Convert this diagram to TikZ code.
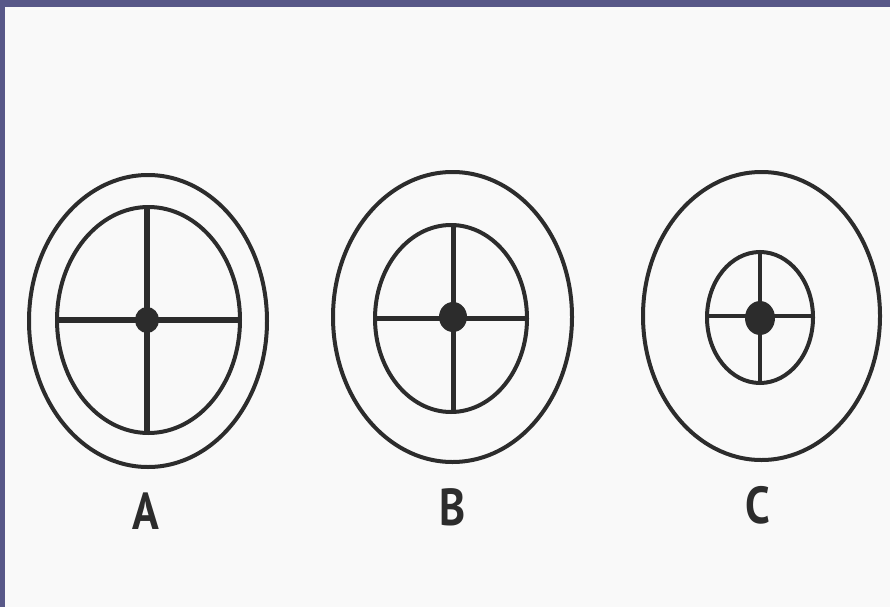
\documentclass[tikz,border=0pt]{standalone}
\usepackage{fontspec}
\setsansfont{PT Sans}
\definecolor{bgc}{HTML}{F9F9F9}
\definecolor{framec}{HTML}{585888}
\definecolor{ink}{HTML}{2C2C2C}
\begin{document}
\begin{tikzpicture}[x=1pt,y=-1pt,
  rim/.style={draw=ink,line width=4pt},
  spoke/.style={draw=ink,line width=#1},
  hub/.style={fill=ink},
  lbl/.style={text=ink,font=\sffamily\bfseries\fontsize{52}{52}\selectfont,inner sep=0pt,xscale=0.85}]
\useasboundingbox (0,0) rectangle (890,607);
\fill[framec] (0,0) rectangle (890,607);
\fill[bgc] (5,7) rectangle (890,607);
% A
\draw[rim] (148,321) ellipse [x radius=119,y radius=146];
\draw[rim] (148.5,320) ellipse [x radius=91.5,y radius=113];
\draw[spoke=6pt] (57,320) -- (240,320);
\draw[spoke=6pt] (147,207) -- (147,433);
\fill[hub] (147,320) ellipse [x radius=12,y radius=13];
% B
\draw[rim] (452.5,317) ellipse [x radius=119.5,y radius=145];
\draw[rim] (451,318.5) ellipse [x radius=76,y radius=93.5];
\draw[spoke=5pt] (375,318) -- (527,318);
\draw[spoke=5pt] (453,225) -- (453,412);
\fill[hub] (453,317) ellipse [x radius=14,y radius=15];
% C
\draw[rim] (761.5,316) ellipse [x radius=118.5,y radius=144];
\draw[rim] (760,317.5) ellipse [x radius=53,y radius=65.5];
\draw[spoke=4pt] (707,316) -- (813,316);
\draw[spoke=4pt] (760,252) -- (760,383);
\fill[hub] (760,318) ellipse [x radius=15,y radius=17];
% labels
\node[lbl] (la) at (146,511) {A};
\node[lbl] (lb) at (453,507) {B};
\node[lbl] (lc) at (758,505) {C};
\end{tikzpicture}
\end{document}
